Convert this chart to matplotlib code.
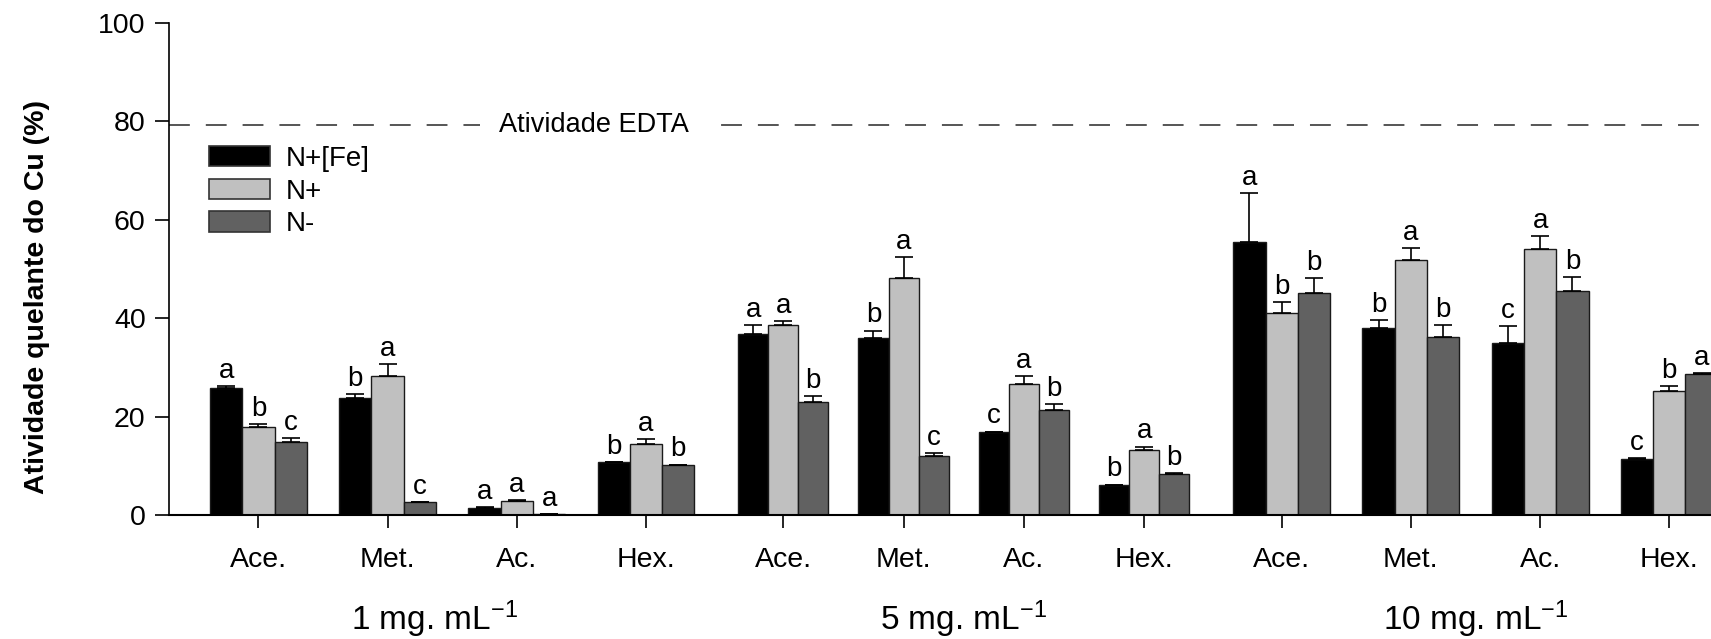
import numpy as np
import matplotlib
matplotlib.use("Agg")
import matplotlib.pyplot as plt
from matplotlib.patches import Patch
from matplotlib.transforms import blended_transform_factory

plt.rcParams['font.family'] = ['Liberation Sans', 'DejaVu Sans']
plt.rcParams['mathtext.default'] = 'regular'
plt.rcParams['lines.scale_dashes'] = False

# data
concentrations = ["1 mg. mL$^{-1}$", "5 mg. mL$^{-1}$", "10 mg. mL$^{-1}$"]
solvents = ["Ace.", "Met.", "Ac.", "Hex."]
series = ["N+[Fe]", "N+", "N-"]
colors = ["#000000", "#c0c0c0", "#616161"]

n_fe = [25.8, 23.75, 1.55, 10.8, 36.8, 35.9, 16.9, 6.15, 55.4, 38.0, 34.9, 11.35]
n_plus = [17.9, 28.3, 3.0, 14.55, 38.7, 48.2, 26.7, 13.2, 41.1, 51.9, 54.1, 25.2]
n_minus = [14.9, 2.6, 0.25, 10.2, 22.9, 12.1, 21.4, 8.4, 45.1, 36.2, 45.5, 28.6]

err_fe = [0.45, 0.95, 0.1, 0.1, 1.8, 1.6, 0.1, 0.1, 10.0, 1.6, 3.5, 0.3]
err_plus = [0.6, 2.4, 0.1, 0.85, 0.8, 4.3, 1.6, 0.75, 2.1, 2.4, 2.6, 1.1]
err_minus = [0.8, 0.1, 0.05, 0.1, 1.3, 0.5, 1.2, 0.1, 3.1, 2.4, 2.9, 0.2]

let_fe = list("abab" "abcb" "abcc")
let_plus = list("baaa" "aaaa" "baab")
let_minus = list("ccab" "bcbb" "bbba")

edta_level = 79.2

values = [n_fe, n_plus, n_minus]
errors = [err_fe, err_plus, err_minus]
letters = [let_fe, let_plus, let_minus]

# layout: where each concentration group starts and its category step
group_start = [0.69, 4.752, 8.61]
group_step = [1.0, 0.931, 1.0]

xpos = []
step = []
for g in range(len(concentrations)):
    for i in range(len(solvents)):
        xpos.append(group_start[g] + i * group_step[g])
        step.append(group_step[g])
xpos = np.array(xpos)
bw = 0.25 * np.array(step)

fig = plt.figure(figsize=(17.11, 6.39), dpi=100)
ax = fig.add_axes([169.3 / 1711, 1 - 515.3 / 639, 1 - 169.3 / 1711, 492.6 / 639])

for k, name in enumerate(series):
    xs = xpos + (k - 1) * bw
    ax.bar(xs, values[k], width=bw, color=colors[k], edgecolor="#1a1a1a",
           linewidth=1.0, zorder=2)
    ax.errorbar(xs, values[k], yerr=[np.zeros(len(xs)), errors[k]], fmt="none",
                ecolor="black", elinewidth=1.2, capsize=6.5, capthick=1.2, zorder=3)
    for x, v, e, t in zip(xs, values[k], errors[k], letters[k]):
        ax.annotate(t, (x, v + e), xytext=(0, 1.5), textcoords="offset points",
                    ha="center", va="bottom", fontsize=20)

# EDTA reference line
ax.axhline(edta_level, color="#555555", lw=1.4, linestyle=(0, (15, 11.5)), zorder=1)
ax.text((594 - 169.3) / 129.2, edta_level, "Atividade EDTA", fontsize=19.5,
        ha="center", va="center", zorder=4,
        bbox=dict(facecolor="white", edgecolor="none", pad=14))

ax.set_xlim(0, (1711 - 169.3) / 129.2)
ax.set_ylim(0, 100)
ax.set_yticks(np.arange(0, 101, 20))
ax.set_xticks(xpos)
ax.set_xticklabels(solvents * len(concentrations))
ax.tick_params(axis="y", labelsize=20.5, length=10, width=1.2, pad=7)
ax.tick_params(axis="x", labelsize=20.5, length=9, width=1.2, pad=14)
for s in ["top", "right"]:
    ax.spines[s].set_visible(False)
ax.spines["left"].set_linewidth(1.2)
ax.spines["bottom"].set_linewidth(1.5)

# concentration labels under each group
tr = blended_transform_factory(ax.transData, fig.transFigure)
label_shift = [-0.14, 0.0, 0.0]
for g, lab in enumerate(concentrations):
    gx = group_start[g] + 1.5 * group_step[g] + label_shift[g]
    ax.text(gx, 1 - 630 / 639, lab, transform=tr, fontsize=24,
            ha="center", va="baseline")

fig.text(37 / 1711, 1 - 297 / 639, "Atividade quelante do Cu (%)", rotation=90,
         fontsize=20.5, fontweight="bold", ha="center", va="center")

handles = [Patch(facecolor=c, edgecolor="#333333", linewidth=1.2) for c in colors]
ax.legend(handles, series, loc="upper left", bbox_to_anchor=(209 / 1711, 1 - 146 / 639),
          bbox_transform=fig.transFigure, frameon=False, fontsize=20,
          handlelength=2.2, handleheight=0.75, handletextpad=0.55,
          labelspacing=0.24, borderpad=0, borderaxespad=0)

fig.savefig("out.png", dpi=100)
